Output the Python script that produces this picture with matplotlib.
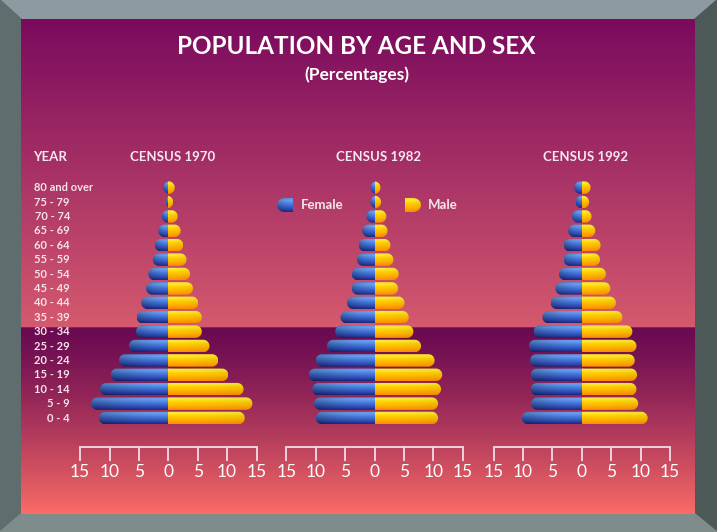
import numpy as np
import matplotlib
matplotlib.use('Agg')
import matplotlib.pyplot as plt
from matplotlib.patches import Polygon
from matplotlib.colors import to_rgb

# age groups, bottom to top
ages = ['0 - 4', '5 - 9', '10 - 14', '15 - 19', '20 - 24', '25 - 29', '30 - 34',
        '35 - 39', '40 - 44', '45 - 49', '50 - 54', '55 - 59', '60 - 64',
        '65 - 69', '70 - 74', '75 - 79', '80 and over']

female_1970 = [11.8, 13.1, 11.6, 9.8, 8.4, 6.7, 5.5, 5.4, 4.6, 3.8, 3.4, 2.65, 2.3, 1.7, 1.1, 0.45, 0.85]
male_1970 = [13.0, 14.3, 12.8, 10.2, 8.5, 7.0, 5.7, 5.7, 5.1, 4.2, 3.7, 3.1, 2.55, 2.1, 1.6, 0.85, 1.1]
female_1982 = [10.0, 10.3, 10.6, 11.2, 10.0, 8.1, 6.7, 5.8, 4.7, 3.9, 3.9, 3.0, 2.7, 2.1, 1.4, 0.7, 0.7]
male_1982 = [10.8, 10.8, 11.3, 11.5, 10.2, 7.9, 6.6, 5.8, 5.1, 4.0, 4.1, 3.2, 2.7, 2.2, 2.0, 1.1, 1.0]
female_1992 = [10.2, 8.6, 8.7, 8.7, 8.8, 9.0, 8.2, 6.7, 5.3, 4.5, 3.9, 3.1, 3.1, 2.3, 1.65, 1.07, 1.3]
male_1992 = [11.2, 9.6, 9.3, 9.4, 9.0, 9.3, 8.6, 6.9, 5.8, 4.85, 4.1, 3.1, 3.2, 2.3, 1.65, 1.25, 1.5]

censuses = ['CENSUS 1970', 'CENSUS 1982', 'CENSUS 1992']
females = [female_1970, female_1982, female_1992]
males = [male_1970, male_1982, male_1992]
ticks = [-15, -10, -5, 0, 5, 10, 15]

W, H = 717, 532
FONT = ['Lato', 'DejaVu Sans']
plt.rcParams['font.family'] = FONT

# colour stops, bottom -> top of each bar
blue_stops = [(0.0, '#1e2780'), (0.25, '#3050b8'), (0.6, '#4a80e2'), (0.85, '#6ea2f2'), (1.0, '#5a8ae0')]
yellow_stops = [(0.0, '#ff8c00'), (0.3, '#ffb000'), (0.65, '#ffd400'), (0.88, '#ffec40'), (1.0, '#ffd820')]


def gradient(stops, outer_dark, going_left, n=40, m=30):
    t = np.linspace(0, 1, n)
    pos = [s[0] for s in stops]
    cols = np.array([to_rgb(s[1]) for s in stops])
    col = np.stack([np.interp(t, pos, cols[:, k]) for k in range(3)], axis=1)
    # horizontal shading: darker toward the rounded end
    u = np.linspace(0, 1, m)
    fac = 1 - outer_dark * u ** 2
    if going_left:
        fac = fac[::-1]
    img = col[:, None, :] * fac[None, :, None]
    return np.clip(img, 0, 1)


def capsule(ax, x_flat, x_round, yc, h, rx, stops, outer_dark=0.0, zorder=3):
    sgn = 1 if x_round > x_flat else -1
    cx = x_round - sgn * rx
    th = np.linspace(-np.pi / 2, np.pi / 2, 40)
    arc_x = cx + sgn * rx * np.cos(th)
    arc_y = yc + (h / 2) * np.sin(th)
    far = x_flat - sgn * 4 * rx
    verts = [(far, yc - h / 2)] + list(zip(arc_x, arc_y)) + [(far, yc + h / 2)]
    clip = Polygon(verts, closed=True, facecolor='none', edgecolor='none')
    ax.add_patch(clip)
    lo, hi = sorted([x_flat, x_round])
    im = ax.imshow(gradient(stops, outer_dark, sgn < 0), extent=[lo, hi, yc - h / 2, yc + h / 2],
                   origin='lower', aspect='auto', interpolation='bilinear', zorder=zorder)
    im.set_clip_path(clip)


fig = plt.figure(figsize=(W / 100, H / 100), dpi=100)
bg = fig.add_axes([0, 0, 1, 1])
bg.set_xlim(0, W)
bg.set_ylim(0, H)
bg.axis('off')


def py(y):
    return H - y


# frame
bg.add_patch(Polygon([(0, H), (W, H), (695, py(19)), (21, py(19))], color='#8d9ba0'))
bg.add_patch(Polygon([(0, H), (21, py(19)), (21, py(514)), (0, 0)], color='#5f6d6e'))
bg.add_patch(Polygon([(W, H), (W, 0), (695, py(514)), (695, py(19))], color='#4d5959'))
bg.add_patch(Polygon([(0, 0), (W, 0), (695, py(514)), (21, py(514))], color='#7e8c8c'))

# background gradient with the band break
ys = np.arange(19, 515)
top_a, top_b = np.array(to_rgb('#7a0a5e')), np.array(to_rgb('#d55a6e'))
bot_a, bot_b = np.array(to_rgb('#6a0a52')), np.array(to_rgb('#fa6c66'))
rows = []
for y in ys:
    if y < 328:
        t = (y - 19) / (328 - 19)
        rows.append(top_a + (top_b - top_a) * t)
    else:
        t = ((y - 328) / (514 - 328)) ** 1.25
        rows.append(bot_a + (bot_b - bot_a) * t)
bg_img = np.array(rows)[:, None, :]
bg.imshow(bg_img, extent=[21, 695, py(514), py(19)], origin='upper', aspect='auto', zorder=1)
bg.set_xlim(0, W)
bg.set_ylim(0, H)

# titles
bg.text(356, py(47), 'POPULATION BY AGE AND SEX', color='white', fontsize=17.5,
        fontweight='bold', ha='center', va='center', zorder=5)
bg.text(357, py(75), '(Percentages)', color='white', fontsize=12.5,
        fontweight='bold', ha='center', va='center', zorder=5)
bg.text(33, py(157), 'YEAR', color='#f6e6ee', fontsize=9.5, fontweight='bold',
        ha='left', va='center', zorder=5)

# age labels
row_px = 14.4
for i, a in enumerate(ages):
    y = 418 - i * row_px
    if a == '80 and over':
        bg.text(34, py(y), a, color='#f6e2ea', fontsize=8, fontweight='bold',
                ha='left', va='center', zorder=5)
    else:
        bg.text(70, py(y), a, color='#f6e2ea', fontsize=8, fontweight='bold',
                ha='right', va='center', zorder=5)

# pyramids
centers = [168.3, 374.6, 581.8]
px_per_unit = 5.88
bar_h = 0.87
rx = bar_h * row_px / 2 / px_per_unit
ax_w = 30 * px_per_unit
ax_bottom, ax_top = 447, 180
for k in range(3):
    left = centers[k] - ax_w / 2
    ax = fig.add_axes([left / W, (H - ax_bottom) / H, ax_w / W, (ax_bottom - ax_top) / H])
    ax.patch.set_alpha(0)
    ax.set_zorder(3)
    for i in range(len(ages)):
        capsule(ax, 0, -females[k][i], i, bar_h, rx, blue_stops, outer_dark=0.25)
        capsule(ax, 0, males[k][i], i, bar_h, rx, yellow_stops, outer_dark=0.05)
    ax.set_xlim(-15, 15)
    ax.set_ylim(-(ax_bottom - 418) / row_px, (418 - ax_top) / row_px)
    for s in ['left', 'right', 'top']:
        ax.spines[s].set_visible(False)
    ax.spines['bottom'].set_color('#f2dde6')
    ax.spines['bottom'].set_linewidth(1.3)
    ax.set_yticks([])
    ax.set_xticks(ticks)
    ax.set_xticklabels([str(abs(t)) for t in ticks])
    ax.tick_params(axis='x', direction='out', length=10, width=1.3, color='#f2dde6',
                   labelcolor='white', labelsize=12.5, pad=2)
    bg.text(centers[k] + 4, py(157), censuses[k], color='#f6e6ee', fontsize=9.5,
            fontweight='bold', ha='center', va='center', zorder=5)

# legend
capsule(bg, 293, 277, py(205), 14, 8, blue_stops, outer_dark=0.2, zorder=4)
bg.text(301, py(205), 'Female', color='#f6e6ee', fontsize=9.5, fontweight='bold',
        ha='left', va='center', zorder=5)
capsule(bg, 405, 421, py(205), 14, 8, yellow_stops, outer_dark=0.05, zorder=4)
bg.text(428, py(205), 'Male', color='#f6e6ee', fontsize=9.5, fontweight='bold',
        ha='left', va='center', zorder=5)
bg.set_xlim(0, W)
bg.set_ylim(0, H)

fig.savefig('out.png', dpi=100)
